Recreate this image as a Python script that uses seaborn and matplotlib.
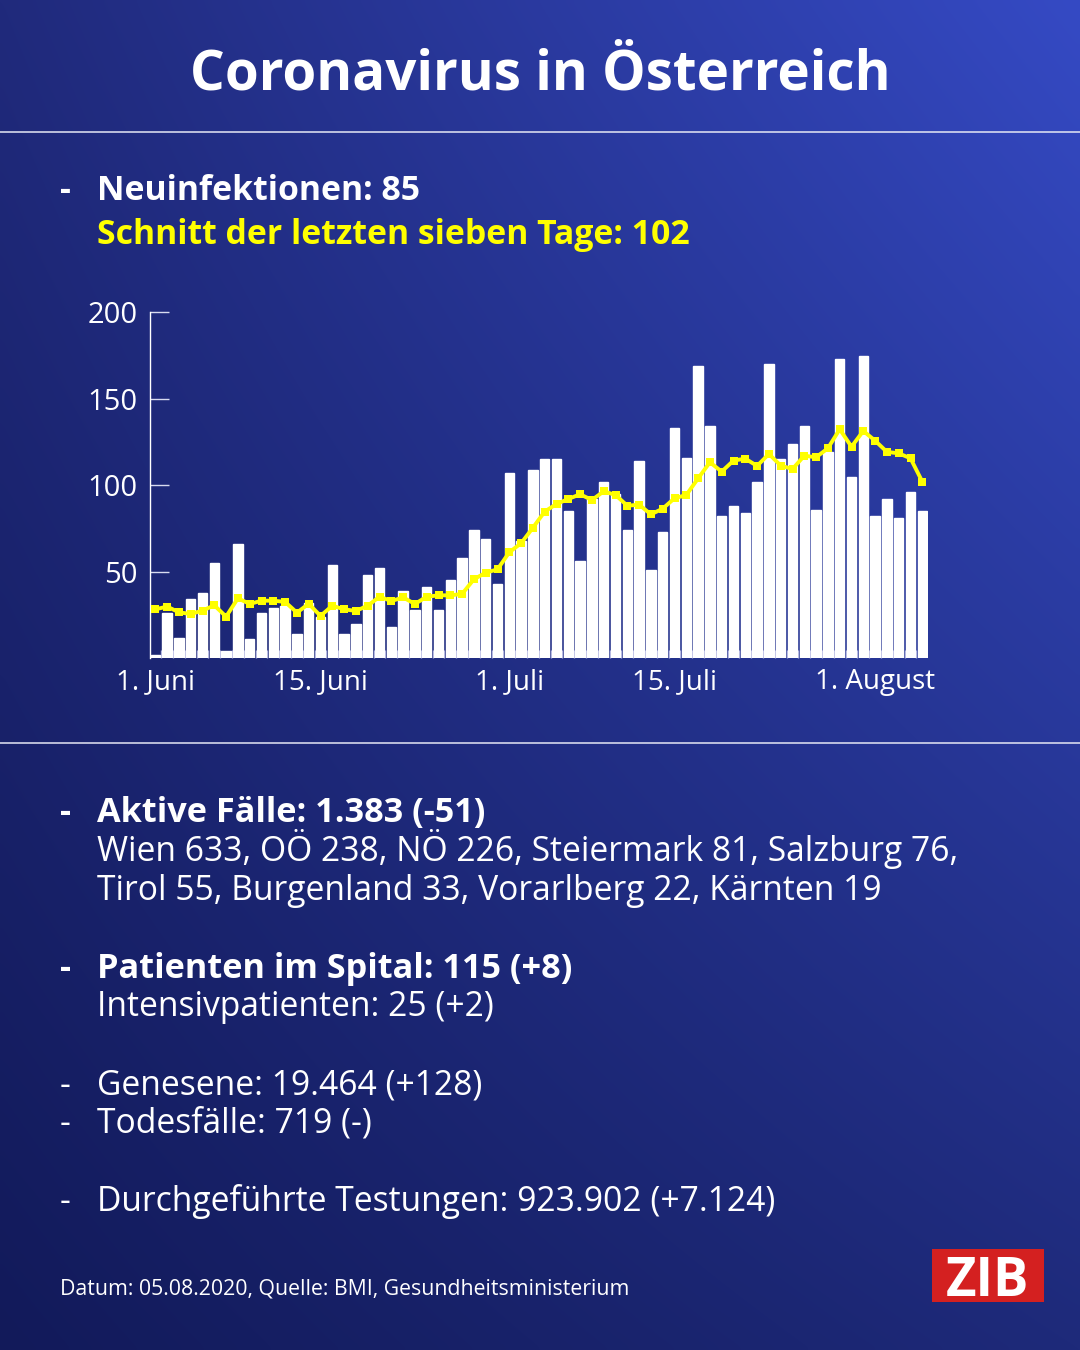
import numpy as np
import pandas as pd
import matplotlib
matplotlib.use("Agg")
import matplotlib.pyplot as plt
import seaborn as sns
from matplotlib.lines import Line2D
from matplotlib.patches import Rectangle
from matplotlib.ticker import FixedLocator

# ---------------- data ----------------
dates = pd.date_range("2020-06-01", "2020-08-05", freq="D")
new_cases = [2, 26, 12, 34, 38, 55, 4, 66, 11, 26,
             29, 30, 14, 32, 24, 54, 14, 20, 48, 52,
             18, 39, 28, 41, 28, 45, 58, 74, 69, 43,
             107, 68, 109, 115, 115, 85, 56, 92, 102, 95,
             74, 114, 51, 73, 133, 116, 169, 134, 82, 88,
             84, 102, 170, 115, 124, 134, 86, 119, 173, 105,
             175, 82, 92, 81, 96, 85]
avg7 = [28.3, 29.9, 26.6, 25.6, 27.6, 30.6, 24.1, 34.7, 31.4, 33.3,
        33.3, 32.6, 26.4, 31.5, 24.5, 30.4, 28.3, 27.4, 30.4, 35.6,
        33.1, 35.2, 31.4, 35.6, 36.4, 36.4, 37.2, 45.7, 49.5, 51.4,
        61.3, 66.5, 75.5, 84.8, 89.2, 92.1, 94.8, 91.5, 96.5, 94.4,
        88.2, 88.8, 83.2, 86.5, 92.5, 94.4, 104.0, 113.3, 107.9, 114.3,
        115.4, 111.2, 118.1, 111.4, 109.4, 117.1, 116.2, 121.4, 132.4, 122.3,
        131.4, 125.8, 119.3, 118.5, 115.6, 102.1]
x_tick_dates = ["2020-06-01", "2020-06-15", "2020-07-01", "2020-07-15", "2020-08-01"]
x_tick_labels = ["1. Juni", "15. Juni", "1. Juli", "15. Juli", "1. August"]
y_ticks = [50, 100, 150, 200]
y_tick_labels = ["50", "100", "150", "200"]

title = "Coronavirus in Österreich"
headline = "Neuinfektionen: 85"
avg_line = "Schnitt der letzten sieben Tage: 102"
blocks = [
    ("bold", "Aktive Fälle: 1.383 (-51)", True),
    ("regular", "Wien 633, OÖ 238, NÖ 226, Steiermark 81, Salzburg 76,", False),
    ("regular", "Tirol 55, Burgenland 33, Vorarlberg 22, Kärnten 19", False),
    ("bold", "Patienten im Spital: 115 (+8)", True),
    ("regular", "Intensivpatienten: 25 (+2)", False),
    ("regular", "Genesene: 19.464 (+128)", True),
    ("regular", "Todesfälle: 719 (-)", True),
    ("regular", "Durchgeführte Testungen: 923.902 (+7.124)", True),
]
block_baselines = [822, 861, 900, 978, 1016, 1095, 1133, 1211]
footer = "Datum: 05.08.2020, Quelle: BMI, Gesundheitsministerium"

# ---------------- style ----------------
sns.set_style("white")
plt.rcParams["font.family"] = ["Open Sans", "DejaVu Sans"]

W, H = 1080, 1350
fig = plt.figure(figsize=(W / 100, H / 100), dpi=100)

# background gradient
bg = fig.add_axes([0, 0, 1, 1], zorder=-10)
tl = np.array([0x20, 0x2a, 0x7c]) / 255
tr = np.array([0x35, 0x4a, 0xc4]) / 255
bl = np.array([0x12, 0x1a, 0x5a]) / 255
br = np.array([0x1e, 0x2a, 0x7a]) / 255
u = np.linspace(0, 1, 200)[None, :, None]
v = np.linspace(0, 1, 250)[:, None, None]
img = (1 - v) * ((1 - u) * tl + u * tr) + v * ((1 - u) * bl + u * br)
bg.imshow(img, aspect="auto", extent=[0, 1, 0, 1], interpolation="bicubic")
bg.set_axis_off()


def px(x, y):
    return x / W, 1 - y / H


def ftext(x, y, s, **kw):
    fx, fy = px(x, y)
    return fig.text(fx, fy, s, **kw)


# title
ftext(540, 89, title, ha="center", va="baseline", color="white",
      fontsize=39.4, fontweight="bold")

# separator lines
for yy in (132, 743):
    fig.add_artist(Line2D([0, 1], [1 - yy / H] * 2, color="#e6e8f5", lw=1.1))

# header lines
ftext(60, 200, "-", ha="left", va="baseline", color="white", fontsize=24.4, fontweight="bold")
ftext(97, 200, headline, ha="left", va="baseline", color="white", fontsize=24.4, fontweight="bold")
ftext(97, 244, avg_line, ha="left", va="baseline", color="#ffff00", fontsize=24.4, fontweight="bold")

# ---------------- chart ----------------
ax_l, ax_r, ax_t, ax_b = 150, 928.2, 312.3, 658.3
ax = fig.add_axes([ax_l / W, 1 - ax_b / H, (ax_r - ax_l) / W, (ax_b - ax_t) / H])
ax.patch.set_alpha(0)

df = pd.DataFrame({"date": dates, "cases": new_cases, "avg": avg7})
df["pos"] = np.arange(len(df))

sns.barplot(data=df, x="pos", y="cases", color="white", width=0.8,
            saturation=1, ax=ax, native_scale=True, zorder=2)
sns.lineplot(data=df, x="pos", y="avg", color="#ffff00", lw=2.8,
             marker="s", markersize=5.5, markeredgewidth=0, ax=ax, zorder=3)

ax.set_xlim(-0.45, len(df) - 0.5)
ax.set_ylim(0, 200)

tick_pos = [int(np.where(df["date"] == pd.Timestamp(d))[0][0]) for d in x_tick_dates]
ax.set_xticks(tick_pos)
ax.set_xticklabels(x_tick_labels)
ax.xaxis.set_minor_locator(FixedLocator(np.arange(0.5, len(df) - 0.5, 1.0)))
ax.set_yticks(y_ticks)
ax.set_yticklabels(y_tick_labels)
ax.set_xlabel("")
ax.set_ylabel("")

for sp in ("top", "right", "bottom"):
    ax.spines[sp].set_visible(False)
ax.spines["left"].set_color("white")
ax.spines["left"].set_linewidth(1.0)

ax.tick_params(axis="y", which="major", left=True, direction="in", length=13.5, width=1,
               color="#d8dbf0", labelcolor="white", labelsize=21, pad=9)
ax.tick_params(axis="x", which="major", bottom=True, length=0, labelcolor="white",
               labelsize=20, pad=7)
ax.tick_params(axis="x", which="minor", bottom=True, direction="in", length=6, width=1,
               color="#a6aadc")
ax.grid(False)

# ---------------- lower text ----------------
for (style, s, dash), yb in zip(blocks, block_baselines):
    if style == "bold":
        w, fs = "bold", 24.7
    else:
        w, fs = "normal", 24.2
    if dash:
        ftext(60, yb, "-", ha="left", va="baseline", color="white", fontsize=fs, fontweight=w)
    ftext(97, yb, s, ha="left", va="baseline", color="white", fontsize=fs, fontweight=w)

ftext(60, 1294, footer, ha="left", va="baseline", color="white", fontsize=15.3)

# ZIB logo
x0, y0, x1, y1 = 931.7, 1249.3, 1044, 1302.3
fig.add_artist(Rectangle(px(x0, y1), (x1 - x0) / W, (y1 - y0) / H,
                         transform=fig.transFigure, color="#d42020", lw=0))
ftext((x0 + x1) / 2, 1296, "ZIB", ha="center", va="baseline", color="white",
      fontsize=38, fontweight="bold")

fig.savefig("out.png", dpi=100)
